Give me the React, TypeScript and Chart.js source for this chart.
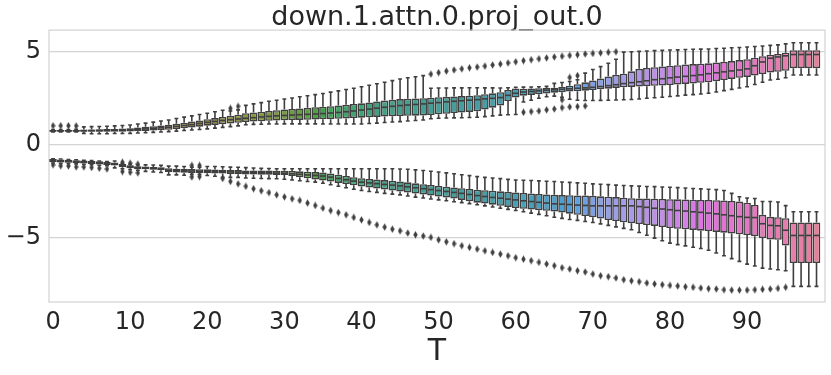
import React, { useEffect, useRef } from "react";
import { Chart, registerables } from "chart.js";

Chart.register(...registerables);

const TITLE = "down.1.attn.0.proj_out.0";
const X_LABEL = "T";
const T_VALUES: number[] = Array.from({ length: 100 }, (_, i) => i);
const X_TICKS = [0, 10, 20, 30, 40, 50, 60, 70, 80, 90];
const Y_TICKS = [-5, 0, 5];

// Upper cluster of boxes (positive values)
const UP_WLO = [
  0.70, 0.70, 0.70, 0.70, 0.62, 0.60, 0.60, 0.60, 0.61, 0.61,
  0.62, 0.64, 0.65, 0.67, 0.69, 0.71, 0.74, 0.77, 0.80, 0.83,
  0.86, 0.90, 0.94, 0.98, 1.02, 1.08, 1.10, 1.11, 1.12, 1.12,
  1.13, 1.13, 1.13, 1.13, 1.13, 1.12, 1.12, 1.12, 1.12, 1.12,
  1.12, 1.15, 1.17, 1.20, 1.23, 1.25, 1.28, 1.31, 1.34, 1.40,
  1.43, 1.44, 1.45, 1.46, 1.47, 1.48, 1.52, 1.56, 1.60, 1.62,
  1.63, 2.30, 2.40, 2.50, 2.58, 2.62, 2.55, 2.45, 2.40, 2.38,
  2.38, 2.39, 2.40, 2.41, 2.42, 2.44, 2.46, 2.50, 2.53, 2.56,
  2.60, 2.63, 2.67, 2.70, 2.73, 2.77, 2.84, 2.91, 2.98, 3.05,
  3.12, 3.24, 3.36, 3.48, 3.52, 3.60, 3.75, 3.75, 3.75, 3.75,
];
const UP_Q1 = [
  0.70, 0.70, 0.71, 0.71, 0.70, 0.70, 0.70, 0.70, 0.71, 0.71,
  0.72, 0.73, 0.75, 0.77, 0.79, 0.81, 0.85, 0.89, 0.93, 0.98,
  1.03, 1.07, 1.11, 1.15, 1.19, 1.23, 1.25, 1.27, 1.29, 1.31,
  1.32, 1.33, 1.34, 1.35, 1.36, 1.37, 1.38, 1.40, 1.42, 1.44,
  1.46, 1.48, 1.50, 1.52, 1.54, 1.55, 1.56, 1.57, 1.58, 1.60,
  1.64, 1.67, 1.71, 1.74, 1.77, 1.80, 1.90, 2.00, 2.12, 2.35,
  2.54, 2.64, 2.68, 2.72, 2.76, 2.80, 2.83, 2.86, 2.88, 2.91,
  2.94, 2.98, 3.02, 3.06, 3.09, 3.11, 3.13, 3.15, 3.17, 3.19,
  3.21, 3.24, 3.27, 3.30, 3.33, 3.36, 3.42, 3.48, 3.54, 3.60,
  3.65, 3.72, 3.80, 3.88, 3.92, 3.98, 4.12, 4.12, 4.12, 4.12,
];
const UP_MED = [
  0.75, 0.75, 0.75, 0.75, 0.76, 0.77, 0.77, 0.78, 0.79, 0.80,
  0.82, 0.84, 0.86, 0.89, 0.92, 0.95, 0.99, 1.04, 1.09, 1.15,
  1.21, 1.26, 1.31, 1.35, 1.39, 1.43, 1.46, 1.50, 1.53, 1.56,
  1.58, 1.60, 1.62, 1.64, 1.66, 1.68, 1.71, 1.74, 1.78, 1.82,
  1.87, 1.92, 1.97, 2.02, 2.07, 2.11, 2.14, 2.17, 2.20, 2.24,
  2.27, 2.31, 2.34, 2.37, 2.40, 2.43, 2.47, 2.50, 2.54, 2.66,
  2.77, 2.84, 2.87, 2.90, 2.93, 2.96, 2.99, 3.01, 3.04, 3.06,
  3.09, 3.13, 3.18, 3.23, 3.29, 3.34, 3.39, 3.44, 3.50, 3.55,
  3.60, 3.64, 3.68, 3.72, 3.76, 3.82, 3.87, 3.92, 3.97, 4.02,
  4.08, 4.25, 4.45, 4.65, 4.72, 4.78, 4.85, 4.85, 4.85, 4.85,
];
const UP_Q3 = [
  0.80, 0.80, 0.80, 0.81, 0.82, 0.83, 0.84, 0.85, 0.86, 0.88,
  0.90, 0.93, 0.97, 1.00, 1.04, 1.08, 1.13, 1.19, 1.25, 1.31,
  1.38, 1.44, 1.50, 1.56, 1.62, 1.70, 1.74, 1.78, 1.82, 1.86,
  1.90, 1.93, 1.96, 1.99, 2.02, 2.05, 2.08, 2.12, 2.16, 2.20,
  2.23, 2.28, 2.33, 2.38, 2.42, 2.46, 2.48, 2.49, 2.51, 2.53,
  2.56, 2.58, 2.60, 2.62, 2.64, 2.67, 2.72, 2.77, 2.83, 2.95,
  3.03, 3.02, 3.03, 3.04, 3.05, 3.07, 3.12, 3.18, 3.26, 3.36,
  3.46, 3.57, 3.67, 3.76, 3.82, 3.95, 4.08, 4.13, 4.17, 4.21,
  4.25, 4.28, 4.31, 4.34, 4.36, 4.38, 4.42, 4.46, 4.50, 4.55,
  4.60, 4.68, 4.76, 4.84, 4.88, 4.95, 5.08, 5.08, 5.08, 5.08,
];
const UP_WHI = [
  0.82, 0.82, 0.83, 0.84, 0.97, 0.98, 0.99, 1.00, 1.02, 1.04,
  1.07, 1.12, 1.17, 1.22, 1.28, 1.34, 1.42, 1.49, 1.56, 1.63,
  1.70, 1.78, 1.86, 1.82, 1.88, 2.12, 2.20, 2.27, 2.34, 2.40,
  2.46, 2.52, 2.58, 2.64, 2.70, 2.76, 2.83, 2.90, 2.97, 3.04,
  3.12, 3.20, 3.28, 3.36, 3.45, 3.54, 3.60, 3.66, 3.72, 3.04,
  3.05, 3.05, 3.06, 3.06, 3.07, 3.07, 3.06, 3.06, 3.05, 3.07,
  3.09, 3.10, 3.11, 3.12, 3.14, 3.30, 3.35, 3.40, 3.50, 3.85,
  4.05, 4.20, 4.38, 4.60, 4.98, 5.00, 5.02, 5.04, 5.06, 5.07,
  5.09, 5.10, 5.12, 5.13, 5.14, 5.15, 5.17, 5.19, 5.21, 5.23,
  5.25, 5.28, 5.31, 5.34, 5.37, 5.42, 5.48, 5.48, 5.48, 5.48,
];

// Lower cluster of boxes (negative values)
const LO_WLO = [
  -0.97, -0.99, -1.00, -1.02, -1.04, -1.06, -1.09, -1.12, -1.23, -1.28,
  -1.32, -1.36, -1.42, -1.45, -1.48, -1.61, -1.61, -1.63, -1.58, -1.58,
  -1.64, -1.68, -1.74, -1.74, -1.74, -1.78, -1.79, -1.80, -1.81, -1.82,
  -1.84, -1.88, -1.92, -1.96, -2.00, -2.06, -2.14, -2.22, -2.30, -2.38,
  -2.45, -2.50, -2.55, -2.60, -2.64, -2.68, -2.74, -2.80, -2.85, -2.90,
  -2.95, -3.00, -3.05, -3.10, -3.15, -3.21, -3.27, -3.33, -3.40, -3.46,
  -3.52, -3.59, -3.66, -3.73, -3.80, -3.88, -3.94, -4.00, -4.05, -4.11,
  -4.16, -4.24, -4.32, -4.40, -4.48, -4.55, -4.70, -4.85, -5.00, -5.14,
  -5.27, -5.35, -5.42, -5.49, -5.56, -5.65, -5.80, -5.95, -6.10, -6.25,
  -6.40, -6.50, -6.61, -6.66, -6.70, -6.75, -7.59, -7.59, -7.59, -7.59,
];
const LO_Q1 = [
  -0.93, -0.95, -0.96, -0.98, -1.00, -1.02, -1.05, -1.08, -1.11, -1.20,
  -1.25, -1.30, -1.31, -1.33, -1.36, -1.46, -1.48, -1.49, -1.51, -1.51,
  -1.52, -1.53, -1.54, -1.56, -1.58, -1.59, -1.59, -1.60, -1.60, -1.61,
  -1.62, -1.67, -1.73, -1.79, -1.85, -1.91, -1.97, -2.04, -2.10, -2.17,
  -2.23, -2.28, -2.34, -2.39, -2.45, -2.50, -2.55, -2.61, -2.66, -2.72,
  -2.77, -2.82, -2.88, -2.95, -3.02, -3.10, -3.15, -3.21, -3.27, -3.33,
  -3.39, -3.43, -3.47, -3.50, -3.54, -3.57, -3.63, -3.69, -3.75, -3.82,
  -3.88, -3.95, -4.03, -4.09, -4.15, -4.20, -4.25, -4.30, -4.35, -4.41,
  -4.46, -4.50, -4.53, -4.56, -4.60, -4.62, -4.67, -4.71, -4.76, -4.80,
  -4.84, -4.90, -5.00, -5.07, -5.09, -5.40, -6.34, -6.34, -6.34, -6.34,
];
const LO_MED = [
  -0.84, -0.86, -0.88, -0.90, -0.92, -0.94, -0.96, -0.99, -1.03, -1.12,
  -1.17, -1.22, -1.24, -1.26, -1.28, -1.36, -1.38, -1.39, -1.40, -1.41,
  -1.42, -1.43, -1.44, -1.45, -1.46, -1.47, -1.48, -1.49, -1.50, -1.51,
  -1.52, -1.55, -1.58, -1.61, -1.64, -1.67, -1.73, -1.80, -1.87, -1.94,
  -2.00, -2.04, -2.08, -2.12, -2.16, -2.20, -2.25, -2.30, -2.35, -2.40,
  -2.45, -2.50, -2.55, -2.60, -2.66, -2.72, -2.77, -2.82, -2.86, -2.91,
  -2.95, -3.00, -3.04, -3.08, -3.12, -3.16, -3.18, -3.20, -3.23, -3.25,
  -3.27, -3.27, -3.27, -3.27, -3.27, -3.27, -3.31, -3.35, -3.40, -3.44,
  -3.48, -3.52, -3.55, -3.59, -3.62, -3.66, -3.70, -3.75, -3.80, -3.85,
  -3.89, -3.90, -4.23, -4.32, -4.34, -4.58, -4.86, -4.86, -4.86, -4.86,
];
const LO_Q3 = [
  -0.76, -0.78, -0.80, -0.82, -0.84, -0.86, -0.88, -0.91, -0.95, -1.03,
  -1.09, -1.14, -1.16, -1.18, -1.20, -1.25, -1.28, -1.28, -1.29, -1.30,
  -1.31, -1.32, -1.33, -1.34, -1.35, -1.37, -1.38, -1.38, -1.38, -1.39,
  -1.39, -1.40, -1.42, -1.44, -1.46, -1.48, -1.54, -1.60, -1.67, -1.73,
  -1.79, -1.83, -1.86, -1.89, -1.93, -1.96, -2.01, -2.06, -2.11, -2.15,
  -2.20, -2.24, -2.28, -2.32, -2.36, -2.40, -2.43, -2.46, -2.49, -2.52,
  -2.55, -2.58, -2.61, -2.63, -2.66, -2.68, -2.69, -2.70, -2.71, -2.72,
  -2.73, -2.76, -2.78, -2.80, -2.83, -2.86, -2.87, -2.88, -2.89, -2.90,
  -2.91, -2.92, -2.93, -2.94, -2.95, -2.95, -2.97, -2.99, -3.01, -3.04,
  -3.10, -3.22, -3.75, -3.86, -3.88, -3.93, -4.16, -4.16, -4.16, -4.16,
];
const LO_WHI = [
  -0.74, -0.76, -0.78, -0.80, -0.82, -0.84, -0.86, -0.89, -0.86, -1.00,
  -1.04, -1.08, -1.07, -1.08, -1.10, -1.14, -1.14, -1.16, -1.20, -1.20,
  -1.16, -1.16, -1.17, -1.19, -1.20, -1.22, -1.24, -1.26, -1.27, -1.28,
  -1.28, -1.28, -1.28, -1.28, -1.28, -1.28, -1.28, -1.28, -1.28, -1.28,
  -1.28, -1.28, -1.28, -1.28, -1.28, -1.29, -1.31, -1.34, -1.37, -1.41,
  -1.45, -1.50, -1.55, -1.60, -1.65, -1.70, -1.74, -1.78, -1.81, -1.85,
  -1.88, -1.90, -1.91, -1.93, -1.95, -1.96, -1.99, -2.01, -2.04, -2.06,
  -2.09, -2.11, -2.13, -2.16, -2.18, -2.20, -2.21, -2.23, -2.24, -2.26,
  -2.27, -2.29, -2.31, -2.34, -2.36, -2.38, -2.40, -2.45, -2.60, -2.78,
  -2.85, -2.88, -3.04, -3.04, -3.06, -3.26, -3.59, -3.59, -3.59, -3.59,
];

// Outliers as [T, value]
const UP_OUTLIERS: number[][] = [
  [0, 1.03], [1, 1.03], [2, 1.03], [3, 1.02], [23, 1.96], [24, 2.07],
  [49, 3.80], [50, 3.88], [51, 3.96], [52, 4.02], [53, 4.08], [54, 4.14],
  [55, 4.18], [56, 4.23], [57, 4.29], [58, 4.34], [59, 4.40], [60, 4.46],
  [61, 4.52], [62, 4.57], [63, 4.62], [64, 4.67], [65, 4.72], [66, 4.76],
  [67, 4.80], [68, 4.84], [69, 4.88], [70, 4.91], [71, 4.94], [72, 4.97], [73, 5.00],
  [61, 1.75], [62, 1.79], [63, 1.82], [64, 1.88], [65, 1.93], [66, 2.00],
  [67, 2.04], [68, 2.06], [69, 2.09], [66, 2.42], [67, 3.62], [68, 3.72],
];
const LO_OUTLIERS: number[][] = [
  [0, -1.07], [1, -1.12], [2, -1.13], [3, -1.18], [4, -1.18], [5, -1.21], [6, -1.25], [7, -1.29],
  [9, -0.93], [9, -1.43], [10, -0.98], [10, -1.47], [11, -1.03], [11, -1.50],
  [18, -1.10], [18, -1.72], [19, -1.10], [19, -1.70],
  [22, -1.80], [23, -1.96], [24, -2.09], [25, -2.22], [26, -2.35], [27, -2.46],
  [28, -2.56], [29, -2.68], [30, -2.79], [31, -2.89], [32, -2.98], [33, -3.12],
  [34, -3.25], [35, -3.39], [36, -3.52], [37, -3.63], [38, -3.75], [39, -3.89],
  [40, -4.02], [41, -4.16], [42, -4.29], [43, -4.41], [44, -4.52], [45, -4.61],
  [46, -4.73], [47, -4.82], [48, -4.89], [49, -4.96], [50, -5.09], [51, -5.20],
  [52, -5.30], [53, -5.41], [54, -5.50], [55, -5.59], [56, -5.68], [57, -5.77],
  [58, -5.86], [59, -5.95], [60, -6.05], [61, -6.13], [62, -6.21], [63, -6.30],
  [64, -6.39], [65, -6.48], [66, -6.59], [67, -6.66], [68, -6.75], [69, -6.82],
  [70, -6.93], [71, -7.02], [72, -7.07], [73, -7.14], [74, -7.23], [75, -7.29],
  [76, -7.34], [77, -7.41], [78, -7.46], [79, -7.50], [80, -7.54], [81, -7.57],
  [82, -7.61], [83, -7.64], [84, -7.68], [85, -7.71], [86, -7.73], [87, -7.77],
  [88, -7.79], [89, -7.79], [90, -7.79], [91, -7.77], [92, -7.75], [93, -7.73],
  [94, -7.70], [95, -7.64],
];

// ---- seaborn husl palette + desaturation ----
const HM = [
  [3.2406, -1.5372, -0.4986],
  [-0.9689, 1.8758, 0.0415],
  [0.0557, -0.204, 1.057],
];
function maxChroma(L: number, H: number) {
  const hrad = (H / 180) * Math.PI;
  const sinH = Math.sin(hrad);
  const cosH = Math.cos(hrad);
  const sub1 = Math.pow(L + 16, 3) / 1560896.0;
  const sub2 = sub1 > 0.008856 ? sub1 : L / 903.3;
  let result = Infinity;
  for (const [m1, m2, m3] of HM) {
    const top = (0.99915 * m1 + 1.05122 * m2 + 1.1446 * m3) * sub2;
    const rbottom = 0.8633 * m3 - 0.17266 * m2;
    const lbottom = 0.12949 * m3 - 0.38848 * m1;
    const bottom = (rbottom * sinH + lbottom * cosH) * sub2;
    for (const t of [0, 1]) {
      const C = (L * (top - 1.05122 * t)) / (bottom + 0.17266 * sinH * t);
      if (C > 0 && C < result) result = C;
    }
  }
  return result;
}
function huslToRgb(H: number, S: number, L: number): number[] {
  const C = (maxChroma(L, H) / 100) * S;
  const hrad = (H / 180) * Math.PI;
  const U = Math.cos(hrad) * C;
  const V = Math.sin(hrad) * C;
  const t = (L + 16) / 116;
  const varY = Math.pow(t, 3) > 0.008856 ? Math.pow(t, 3) : (116 * t - 16) / 903.3;
  const varU = U / (13 * L) + 0.19784;
  const varV = V / (13 * L) + 0.46834;
  const Y = varY;
  const X = 0 - (9 * Y * varU) / ((varU - 4) * varV - varU * varV);
  const Z = (9 * Y - 15 * varV * Y - varV * X) / (3 * varV);
  return HM.map((row) => {
    const c = row[0] * X + row[1] * Y + row[2] * Z;
    const v = c <= 0.0031308 ? 12.92 * c : 1.055 * Math.pow(c, 1 / 2.4) - 0.055;
    return Math.min(1, Math.max(0, v));
  });
}
function rgbToHls(r: number, g: number, b: number): number[] {
  const maxc = Math.max(r, g, b);
  const minc = Math.min(r, g, b);
  const l = (maxc + minc) / 2;
  if (maxc === minc) return [0, l, 0];
  const rng = maxc - minc;
  const s = l <= 0.5 ? rng / (maxc + minc) : rng / (2 - maxc - minc);
  const rc = (maxc - r) / rng;
  const gc = (maxc - g) / rng;
  const bc = (maxc - b) / rng;
  let h: number;
  if (r === maxc) h = bc - gc;
  else if (g === maxc) h = 2 + rc - bc;
  else h = 4 + gc - rc;
  h = (((h / 6) % 1) + 1) % 1;
  return [h, l, s];
}
function hv(m1: number, m2: number, hue: number) {
  hue = ((hue % 1) + 1) % 1;
  if (hue < 1 / 6) return m1 + (m2 - m1) * hue * 6;
  if (hue < 0.5) return m2;
  if (hue < 2 / 3) return m1 + (m2 - m1) * (2 / 3 - hue) * 6;
  return m1;
}
function hlsToRgb(h: number, l: number, s: number): number[] {
  if (s === 0) return [l, l, l];
  const m2 = l <= 0.5 ? l * (1 + s) : l + s - l * s;
  const m1 = 2 * l - m2;
  return [hv(m1, m2, h + 1 / 3), hv(m1, m2, h), hv(m1, m2, h - 1 / 3)];
}
const toHex = (c: number[]) =>
  "#" + c.map((v) => Math.round(v * 255).toString(16).padStart(2, "0")).join("");

function boxColors(n: number) {
  const cols: number[][] = [];
  for (let i = 0; i < n; i++) {
    const hue = ((i / n + 0.01) % 1) * 359;
    const rgb = huslToRgb(hue, 0.9 * 99, 0.65 * 99);
    const [h, l, s] = rgbToHls(rgb[0], rgb[1], rgb[2]);
    cols.push(hlsToRgb(h, l, s * 0.75));
  }
  const lum = Math.min(...cols.map((c) => rgbToHls(c[0], c[1], c[2])[1])) * 0.6;
  return { fills: cols.map(toHex), gray: toHex([lum, lum, lum]) };
}

const FONT = "'DejaVu Sans', 'Liberation Sans', sans-serif";
const TEXT_COLOR = "#262626";
const GRID_COLOR = "#d4d4d4";
const LINE_W = 1.6;

export default function App() {
  const ref = useRef<HTMLCanvasElement | null>(null);
  useEffect(() => {
    const canvas = ref.current;
    if (!canvas) return;
    const { fills, gray } = boxColors(T_VALUES.length);

    const diamond = document.createElement("canvas");
    diamond.width = 5;
    diamond.height = 8;
    const dctx = diamond.getContext("2d")!;
    dctx.fillStyle = gray;
    dctx.beginPath();
    dctx.moveTo(2.5, 0.3);
    dctx.lineTo(4.7, 4);
    dctx.lineTo(2.5, 7.7);
    dctx.lineTo(0.3, 4);
    dctx.closePath();
    dctx.fill();

    const groups = [
      { lo: UP_WLO, q1: UP_Q1, med: UP_MED, q3: UP_Q3, hi: UP_WHI },
      { lo: LO_WLO, q1: LO_Q1, med: LO_MED, q3: LO_Q3, hi: LO_WHI },
    ];

    const boxPlugin = {
      id: "boxParts",
      beforeDatasetsDraw(chart: any) {
        const { ctx, chartArea, scales } = chart;
        const xs = scales.x;
        const ys = scales.y;
        ctx.save();
        ctx.strokeStyle = GRID_COLOR;
        ctx.lineWidth = 1.25;
        ctx.strokeRect(chartArea.left, chartArea.top, chartArea.right - chartArea.left, chartArea.bottom - chartArea.top);
        ctx.strokeStyle = gray;
        ctx.lineWidth = LINE_W;
        ctx.lineCap = "butt";
        for (const g of groups) {
          T_VALUES.forEach((t, i) => {
            const x = xs.getPixelForValue(t);
            const cw = xs.getPixelForValue(t + 0.25) - x;
            const yq1 = ys.getPixelForValue(g.q1[i]);
            const yq3 = ys.getPixelForValue(g.q3[i]);
            const ylo = ys.getPixelForValue(g.lo[i]);
            const yhi = ys.getPixelForValue(g.hi[i]);
            ctx.beginPath();
            ctx.moveTo(x, yq1);
            ctx.lineTo(x, ylo);
            ctx.moveTo(x, yq3);
            ctx.lineTo(x, yhi);
            ctx.moveTo(x - cw, ylo);
            ctx.lineTo(x + cw, ylo);
            ctx.moveTo(x - cw, yhi);
            ctx.lineTo(x + cw, yhi);
            ctx.stroke();
          });
        }
        ctx.restore();
      },
      afterDatasetsDraw(chart: any) {
        const { ctx, scales } = chart;
        const xs = scales.x;
        const ys = scales.y;
        ctx.save();
        ctx.strokeStyle = gray;
        ctx.lineWidth = LINE_W;
        for (const g of groups) {
          T_VALUES.forEach((t, i) => {
            const x = xs.getPixelForValue(t);
            const hw = xs.getPixelForValue(t + 0.49) - x - LINE_W / 2;
            const y = ys.getPixelForValue(g.med[i]);
            ctx.beginPath();
            ctx.moveTo(x - hw, y);
            ctx.lineTo(x + hw, y);
            ctx.stroke();
          });
        }
        ctx.restore();
      },
    };

    const barDataset = (q1: number[], q3: number[]) => ({
      type: "bar" as const,
      data: T_VALUES.map((t, i) => ({ x: t, y: [q1[i], q3[i]] })),
      backgroundColor: fills,
      borderColor: gray,
      borderWidth: LINE_W,
      borderSkipped: false,
      grouped: false,
      barPercentage: 0.98,
      categoryPercentage: 1,
    });
    const outlierDataset = (pts: number[][]) => ({
      type: "scatter" as const,
      data: pts.map((p) => ({ x: p[0], y: p[1] })),
      pointStyle: diamond,
      pointRadius: 3,
      showLine: false,
    });

    const chart = new Chart(canvas, {
      type: "bar",
      data: {
        datasets: [
          barDataset(UP_Q1, UP_Q3),
          barDataset(LO_Q1, LO_Q3),
          outlierDataset(UP_OUTLIERS),
          outlierDataset(LO_OUTLIERS),
        ] as any,
      },
      options: {
        responsive: false,
        animation: false,
        devicePixelRatio: 1,
        events: [],
        layout: { padding: { left: 0, right: 6, top: 0, bottom: 0 } },
        plugins: {
          legend: { display: false },
          tooltip: { enabled: false },
          title: {
            display: true,
            fullSize: false,
            text: TITLE,
            color: TEXT_COLOR,
            font: { family: FONT, size: 27, weight: "normal", lineHeight: 0.93 },
            padding: { top: 5, bottom: 0 },
          },
        },
        scales: {
          x: {
            type: "linear",
            offset: false,
            min: -0.52,
            max: 100.1,
            afterBuildTicks: (s: any) => {
              s.ticks = X_TICKS.map((v) => ({ value: v }));
            },
            afterFit: (s: any) => {
              s.height = 73;
            },
            grid: { display: false, drawTicks: false, offset: false },
            border: { display: false },
            ticks: {
              color: TEXT_COLOR,
              font: { family: FONT, size: 24 },
              padding: 6,
              maxRotation: 0,
              autoSkip: false,
            },
            title: {
              display: true,
              text: X_LABEL,
              color: TEXT_COLOR,
              font: { family: FONT, size: 30, lineHeight: 1.2 },
              padding: { top: 0, bottom: 5 },
            },
          },
          y: {
            type: "linear",
            min: -8.43,
            max: 6.16,
            afterBuildTicks: (s: any) => {
              s.ticks = Y_TICKS.map((v) => ({ value: v }));
            },
            afterFit: (s: any) => {
              s.width = 49;
            },
            grid: { color: GRID_COLOR, lineWidth: 1.25, drawTicks: false },
            border: { display: false },
            ticks: {
              color: TEXT_COLOR,
              font: { family: FONT, size: 24 },
              padding: 8,
              callback: (v: any) => (v < 0 ? "\u2212" + Math.abs(v) : String(v)),
            },
          },
        },
      } as any,
      plugins: [boxPlugin],
    });
    return () => chart.destroy();
  }, []);

  return (
    <div style={{ position: "absolute", left: 0, top: 0, width: 831, height: 375, background: "#ffffff" }}>
      <canvas ref={ref} width={831} height={375} style={{ display: "block", width: 831, height: 375 }} />
    </div>
  );
}
